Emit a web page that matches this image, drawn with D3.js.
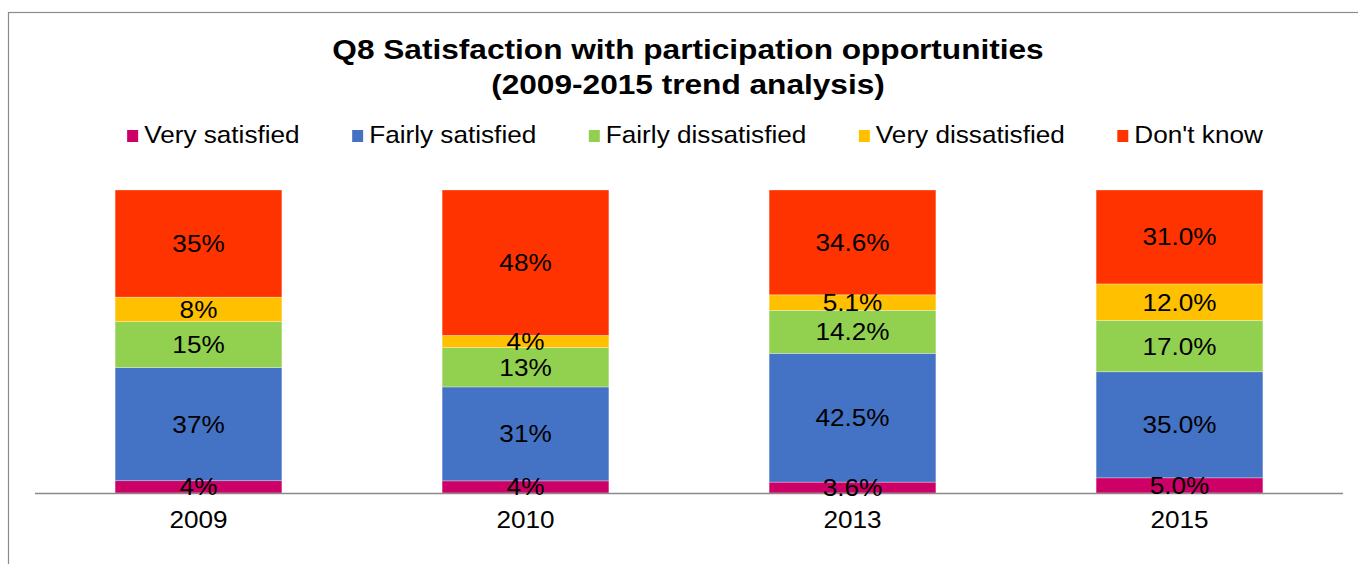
<!DOCTYPE html>
<html>
<head>
<meta charset="utf-8">
<script src="https://cdn.jsdelivr.net/npm/d3@7"></script>
<style>
  html, body { margin: 0; padding: 0; background: #ffffff; }
  svg { display: block; }
  text { font-family: "Liberation Sans", Arial, sans-serif; fill: #000; }
</style>
</head>
<body>
<svg id="chart" width="1358" height="564"></svg>
<script>
// ---- data ----
const years = ["2009", "2010", "2013", "2015"];
const seriesNames = ["Very satisfied", "Fairly satisfied", "Fairly dissatisfied", "Very dissatisfied", "Don't know"];
const verySatisfied      = [4, 4, 3.6, 5.0];
const fairlySatisfied    = [37, 31, 42.5, 35.0];
const fairlyDissatisfied = [15, 13, 14.2, 17.0];
const veryDissatisfied   = [8, 4, 5.1, 12.0];
const dontKnow           = [35, 48, 34.6, 31.0];
const labelDecimals      = [0, 0, 1, 1];
const seriesColors = ["#CC0066", "#4472C4", "#92D050", "#FFC000", "#FF3300"];
const titleLines = ["Q8 Satisfaction with participation opportunities", "(2009-2015 trend analysis)"];

// ---- build table ----
const seriesValues = [verySatisfied, fairlySatisfied, fairlyDissatisfied, veryDissatisfied, dontKnow];
const table = years.map((y, i) => {
  const row = { year: y, idx: i };
  seriesNames.forEach((s, k) => row[s] = seriesValues[k][i]);
  return row;
});

const svg = d3.select("#chart");
const SX_TITLE = 1.15; // horizontal stretch of the reference's title text
const SX = 1.09;       // horizontal stretch of the reference's other text

function stretchedText(sel, x, y, sx) {
  return sel.attr("transform", `translate(${x},${y}) scale(${sx || SX},1)`);
}

// chart border
svg.append("rect")
  .attr("x", 8.5).attr("y", 12.5)
  .attr("width", 1500).attr("height", 700)
  .attr("fill", "none").attr("stroke", "#8c8c8c").attr("stroke-width", 1.2);

// title
titleLines.forEach((t, i) => {
  svg.append("text")
    .call(stretchedText, 688, 59 + i * 35, SX_TITLE)
    .attr("text-anchor", "middle")
    .style("font-size", "27.5px")
    .style("font-weight", "bold")
    .text(t);
});

// scales
const plotLeft = 35, plotRight = 1343, plotTop = 190, plotBottom = 493;
const x = d3.scaleBand().domain(years).range([plotLeft, plotRight]).paddingInner(0.49).paddingOuter(0.245);
const y = d3.scaleLinear().domain([0, 1]).range([plotBottom, plotTop]);
const color = d3.scaleOrdinal().domain(seriesNames).range(seriesColors);

const stack = d3.stack().keys(seriesNames).offset(d3.stackOffsetExpand);
const stacked = stack(table);

// bars
const layers = svg.append("g").selectAll("g")
  .data(stacked).join("g")
  .attr("fill", d => color(d.key));

layers.selectAll("rect")
  .data(d => d).join("rect")
  .attr("x", d => x(d.data.year))
  .attr("width", x.bandwidth())
  .attr("y", d => y(d[1]))
  .attr("height", d => y(d[0]) - y(d[1]))
  .attr("stroke", "rgba(255,255,255,0.5)")
  .attr("stroke-width", 0.6);

// axis
const axisG = svg.append("g").attr("transform", `translate(0,${plotBottom + 0.5})`);
axisG.call(d3.axisBottom(x).tickSize(0).tickPadding(0).tickFormat(""));
axisG.select(".domain").attr("stroke", "#8a8a8a").attr("stroke-width", 1.6)
  .attr("d", `M${plotLeft},0H${plotRight}`);

years.forEach(yr => {
  svg.append("text")
    .call(stretchedText, x(yr) + x.bandwidth() / 2, 528)
    .attr("text-anchor", "middle")
    .style("font-size", "24px")
    .text(yr);
});

// data labels
stacked.forEach((layer, k) => {
  layer.forEach(d => {
    const v = seriesValues[k][d.data.idx];
    const label = v.toFixed(labelDecimals[d.data.idx]) + "%";
    const cy = (y(d[0]) + y(d[1])) / 2;
    svg.append("text")
      .call(stretchedText, x(d.data.year) + x.bandwidth() / 2, cy + 8.5)
      .attr("text-anchor", "middle")
      .style("font-size", "24px")
      .attr("fill", "#111")
      .text(label);
  });
});

// legend
const legend = svg.append("g");
const items = [];
let cursor = 0;
const legendGap = 52.5;
seriesNames.forEach((s, i) => {
  const g = legend.append("g");
  g.append("rect").attr("x", 0).attr("y", -13).attr("width", 11).attr("height", 12).attr("fill", color(s));
  const t = g.append("text").call(stretchedText, 17, 0).style("font-size", "24px").text(s);
  const w = t.node().getComputedTextLength() * SX;
  items.push({ g, off: cursor });
  cursor += 17 + w + legendGap;
});
cursor -= legendGap;
const legendStart = 695 - cursor / 2;
items.forEach(it => it.g.attr("transform", `translate(${legendStart + it.off},143)`));
</script>
</body>
</html>
